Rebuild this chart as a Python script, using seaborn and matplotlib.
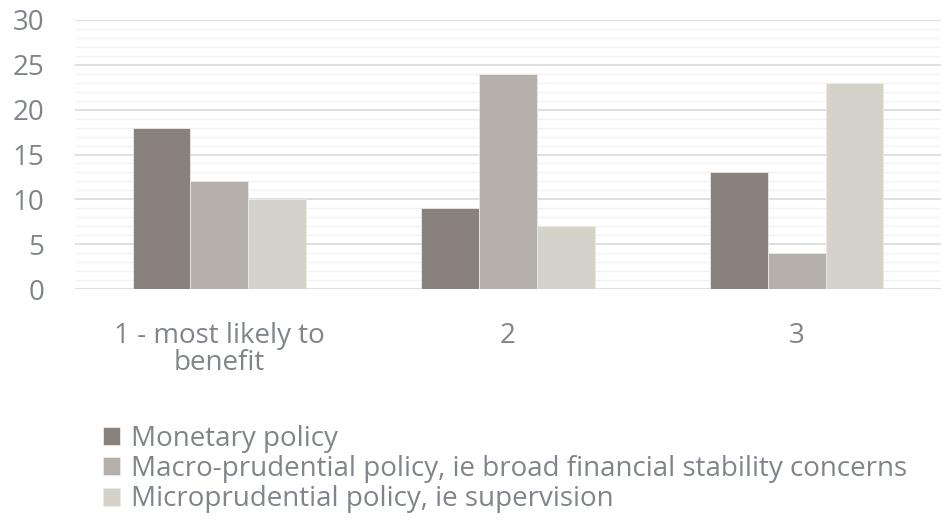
import pandas as pd
import matplotlib.pyplot as plt
import seaborn as sns
from matplotlib.ticker import MultipleLocator

# data
categories = ["1 - most likely to\nbenefit", "2", "3"]
series = [
    "Monetary policy",
    "Macro-prudential policy, ie broad financial stability concerns",
    "Microprudential policy, ie supervision",
]
monetary = [18, 9, 13]
macro = [12, 24, 4]
micro = [10, 7, 23]
colors = ["#8B807A", "#B7AFA8", "#D7D3C7"]

df = pd.DataFrame({
    "category": categories * 3,
    "series": [series[0]] * 3 + [series[1]] * 3 + [series[2]] * 3,
    "value": monetary + macro + micro,
})

sns.set_style("white")
plt.rcParams["font.family"] = ["Open Sans", "DejaVu Sans"]
text_color = "#80858C"
fs = 20

fig = plt.figure(figsize=(9.41, 5.32), dpi=100)
ax = fig.add_axes([75 / 941, 1 - 289 / 532, 866 / 941, 269 / 532])

sns.barplot(data=df, x="category", y="value", hue="series", palette=colors,
            width=0.6, gap=0, edgecolor="#ECEAE6", linewidth=0.6,
            ax=ax, legend=True, zorder=3)

ax.set_ylim(0, 30)
ax.set_xlim(-0.5, 2.5)
ax.yaxis.set_major_locator(MultipleLocator(5))
ax.yaxis.set_minor_locator(MultipleLocator(1))
ax.grid(axis="y", which="major", color="#D9D9D9", linewidth=1.2, zorder=0)
ax.grid(axis="y", which="minor", color="#F2F2F2", linewidth=1.0, zorder=0)
ax.set_axisbelow(True)
for s in ax.spines.values():
    s.set_visible(False)
ax.set_xlabel("")
ax.set_ylabel("")
ax.tick_params(axis="both", length=0, labelsize=fs, labelcolor=text_color)
ax.tick_params(axis="y", pad=22)
ax.tick_params(axis="x", pad=24)
for lbl in ax.get_xticklabels():
    lbl.set_linespacing(0.93)

handles, labels = ax.get_legend_handles_labels()
ax.get_legend().remove()
fig.legend(handles, labels, loc="upper left", bbox_to_anchor=(103 / 941, 1 - 425 / 532),
           frameon=False, fontsize=fs, labelcolor=text_color, handlelength=0.62,
           handleheight=0.62, handletextpad=0.4, labelspacing=0.08,
           borderpad=0, borderaxespad=0)

fig.savefig("out.png", dpi=100)
